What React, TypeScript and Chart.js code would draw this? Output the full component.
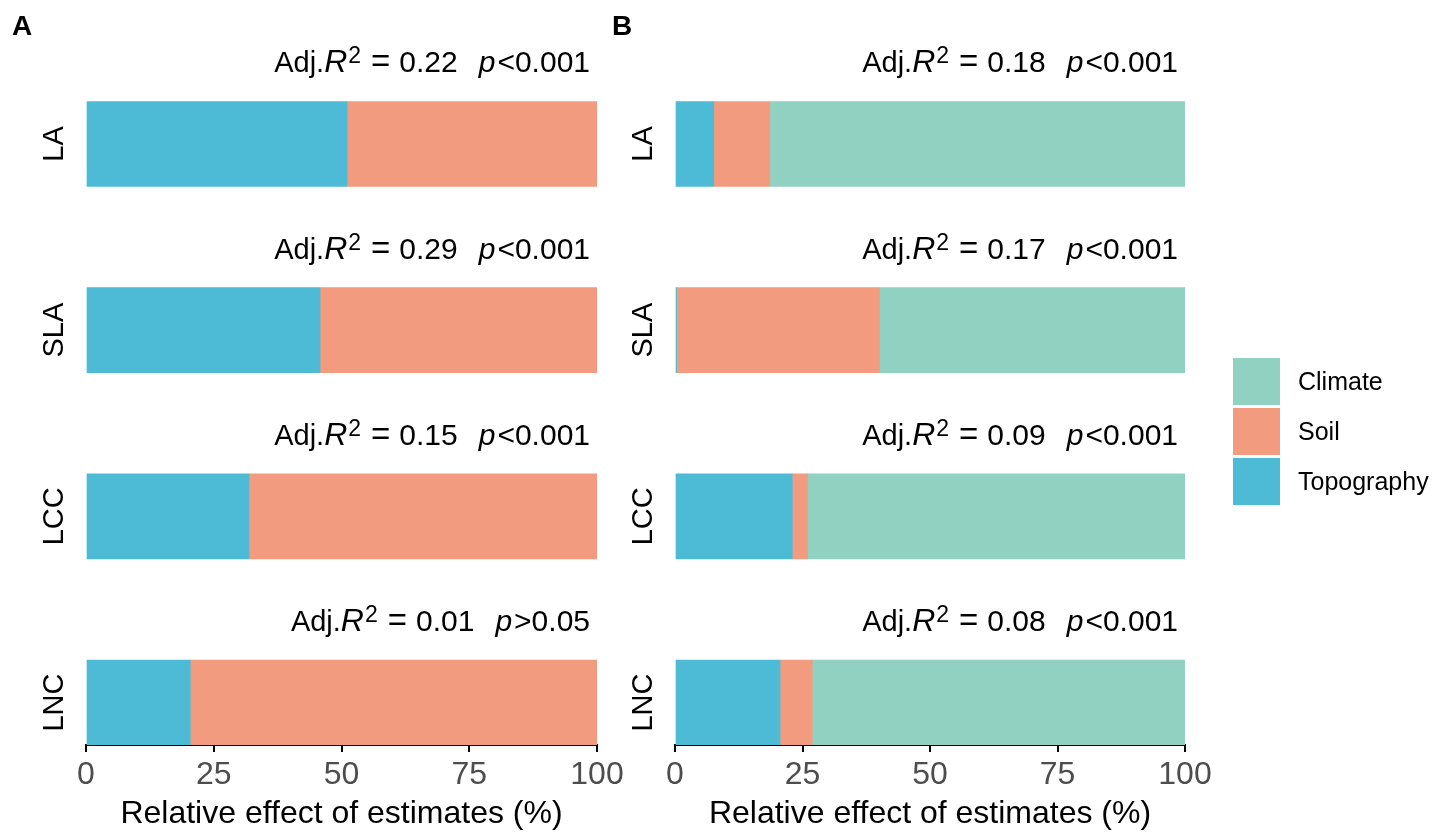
import React, { useRef, useEffect } from 'react';
import { Chart, registerables } from 'chart.js';

Chart.register(...registerables);

const FONT = "'Liberation Sans', Arial, Helvetica, sans-serif";

// trait rows, top to bottom
const traits = ['LA', 'SLA', 'LCC', 'LNC'];

// panel A: topography + soil
const topoA = [51.1, 45.8, 31.9, 20.4];
const soilA = [48.9, 54.2, 68.1, 79.6];
const r2A = ['0.22', '0.29', '0.15', '0.01'];
const pA = ['<0.001', '<0.001', '<0.001', '>0.05'];

// panel B: topography + soil + climate
const topoB = [7.6, 0.3, 23.0, 20.6];
const soilB = [11.0, 39.8, 3.0, 6.3];
const climateB = [81.4, 59.9, 74.0, 73.1];
const r2B = ['0.18', '0.17', '0.09', '0.08'];
const pB = ['<0.001', '<0.001', '<0.001', '<0.001'];

const xTicks = [0, 25, 50, 75, 100];

const colors = {
  Topography: '#4DBBD5',
  Soil: '#F39B7F',
  Climate: '#91D1C2',
};

interface PanelProps {
  letter: string;
  left: number;
  width: number;
  padLeft: number;
  padRight: number;
  series: { label: keyof typeof colors; values: number[] }[];
  r2: string[];
  p: string[];
}

// "Adj.R^2 = x  p<y", drawn right-aligned piece by piece
function drawStat(ctx: CanvasRenderingContext2D, right: number, baseline: number, r2: string, p: string) {
  const segs: { t?: string; f?: string; dy?: number; gap?: number }[] = [
    { t: 'Adj.', f: `29px ${FONT}` },
    { t: 'R', f: `italic 32px ${FONT}` },
    { gap: 1 },
    { t: '2', f: `23px ${FONT}`, dy: -9 },
    { gap: 10 },
    { t: '=', f: `33px ${FONT}` },
    { gap: 9 },
    { t: r2, f: `30px ${FONT}` },
    { gap: 21 },
    { t: 'p', f: `italic 30px ${FONT}` },
    { gap: 2 },
    { t: p, f: `30px ${FONT}` },
  ];
  const widths = segs.map((s) => {
    if (s.gap) return s.gap;
    ctx.font = s.f!;
    return ctx.measureText(s.t!).width;
  });
  const total = widths.reduce((a, b) => a + b, 0);
  let x = right - total;
  ctx.textAlign = 'left';
  ctx.textBaseline = 'alphabetic';
  ctx.fillStyle = '#000';
  segs.forEach((s, i) => {
    if (s.t) {
      ctx.font = s.f!;
      ctx.fillText(s.t, x, baseline + (s.dy || 0));
    }
    x += widths[i];
  });
}

const StackedPanel: React.FC<PanelProps> = ({ letter, left, width, padLeft, padRight, series, r2, p }) => {
  const canvasRef = useRef<HTMLCanvasElement | null>(null);

  useEffect(() => {
    if (!canvasRef.current) return;

    const barThickness = 85;

    const annotate = {
      id: 'annotate',
      afterDraw(chart: Chart) {
        const { ctx, chartArea } = chart;
        const yScale = chart.scales.y;
        ctx.save();
        traits.forEach((trait, i) => {
          const cy = yScale.getPixelForValue(i);
          // rotated row label
          ctx.save();
          ctx.translate(chartArea.left - 23, cy);
          ctx.rotate(-Math.PI / 2);
          ctx.font = `29px ${FONT}`;
          ctx.fillStyle = '#000';
          ctx.textAlign = 'center';
          ctx.textBaseline = 'alphabetic';
          ctx.fillText(trait, 0, 0);
          ctx.restore();
          drawStat(ctx, chartArea.right - 7, cy - barThickness / 2 - 29, r2[i], p[i]);
        });
        // panel letter
        ctx.font = `bold 28px ${FONT}`;
        ctx.fillStyle = '#000';
        ctx.textAlign = 'left';
        ctx.textBaseline = 'alphabetic';
        ctx.fillText(letter, 12, 35);
        ctx.restore();
      },
    };

    const chart = new Chart(canvasRef.current, {
      type: 'bar',
      data: {
        datasets: series.map((s) => ({
          label: s.label,
          data: s.values.map((v, i) => ({ x: v, y: i })),
          backgroundColor: colors[s.label],
          borderWidth: 0,
          barThickness,
        })),
      },
      options: {
        indexAxis: 'y',
        responsive: false,
        animation: false,
        layout: { padding: { left: padLeft, right: padRight, top: 40, bottom: 0 } },
        plugins: {
          legend: { display: false },
          tooltip: { enabled: false },
        },
        scales: {
          x: {
            type: 'linear',
            stacked: true,
            min: 0,
            max: 100,
            afterFit: (scale: any) => {
              scale.height = 92;
            },
            afterBuildTicks: (scale: any) => {
              scale.ticks = xTicks.map((v) => ({ value: v }));
            },
            ticks: {
              color: '#4D4D4D',
              font: { size: 32, family: FONT },
              padding: 4,
              maxRotation: 0,
            },
            grid: {
              display: true,
              drawOnChartArea: false,
              drawTicks: true,
              tickLength: 7,
              color: '#000',
              lineWidth: 2,
            },
            border: { display: true, color: '#000', width: 2 },
            title: {
              display: true,
              text: 'Relative effect of estimates (%)',
              color: '#000',
              font: { size: 32, family: FONT },
              padding: { top: 0, bottom: 4 },
            },
          },
          y: {
            type: 'linear',
            stacked: true,
            reverse: true,
            offset: false,
            min: -0.5586,
            max: 3.2283,
            display: false,
          },
        },
      },
      plugins: [annotate],
    } as any);

    return () => {
      chart.destroy();
    };
  }, [letter, series, r2, p, padLeft, padRight]);

  return (
    <canvas
      ref={canvasRef}
      width={width}
      height={837}
      style={{ position: 'absolute', left, top: 0, width, height: 837 }}
    />
  );
};

const legendItems: (keyof typeof colors)[] = ['Climate', 'Soil', 'Topography'];

const panelASeries = [
  { label: 'Topography' as const, values: topoA },
  { label: 'Soil' as const, values: soilA },
];
const panelBSeries = [
  { label: 'Topography' as const, values: topoB },
  { label: 'Soil' as const, values: soilB },
  { label: 'Climate' as const, values: climateB },
];

const App: React.FC = () => {
  return (
    <div
      style={{
        position: 'absolute',
        left: 0,
        top: 0,
        width: 1442,
        height: 837,
        background: '#fff',
        overflow: 'hidden',
        fontFamily: FONT,
      }}
    >
      <StackedPanel letter="A" left={0} width={640} padLeft={86} padRight={43} series={panelASeries} r2={r2A} p={pA} />
      <StackedPanel letter="B" left={600} width={640} padLeft={75} padRight={55} series={panelBSeries} r2={r2B} p={pB} />
      <div style={{ position: 'absolute', left: 1233, top: 358 }}>
        {legendItems.map((name) => (
          <div key={name} style={{ display: 'flex', alignItems: 'center', height: 47, marginBottom: 3 }}>
            <div style={{ width: 47, height: 47, background: colors[name] }} />
            <span style={{ marginLeft: 18, fontSize: 25, color: '#000' }}>{name}</span>
          </div>
        ))}
      </div>
    </div>
  );
};

export default App;
